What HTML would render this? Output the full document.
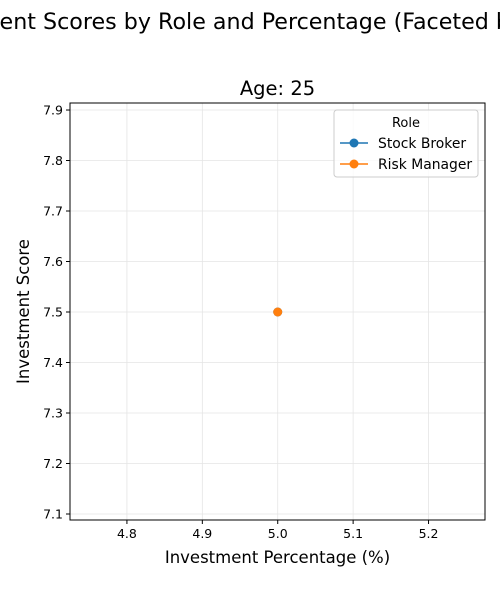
<!DOCTYPE html>
<html><head><meta charset="utf-8"><style>
body{margin:0;background:#fff;width:500px;height:600px;overflow:hidden}
svg{font-family:"DejaVu Sans","Liberation Sans",sans-serif}
</style></head><body>
<svg width="500" height="600" viewBox="0 0 500 600">
<text x="246" y="29" text-anchor="middle" font-size="22.2" fill="#000">Investment Scores by Role and Percentage (Faceted by Age)</text>
<text x="277.5" y="95" text-anchor="middle" font-size="19.5" fill="#000">Age: 25</text>
<g id="grid"></g>
<g id="axes"></g>
<g id="marks"></g>
<rect x="70" y="103" width="415" height="417" fill="none" stroke="#000" stroke-width="1"/>
<text x="277.5" y="563" text-anchor="middle" font-size="16.5">Investment Percentage (%)</text>
<text transform="translate(29,311.5) rotate(-90)" text-anchor="middle" font-size="16.5">Investment Score</text>
<g>
<rect x="334" y="110" width="144" height="67" rx="3" fill="#fff" fill-opacity="0.8" stroke="#ccc"/>
<text x="406" y="127" text-anchor="middle" font-size="13">Role</text>
<g>
<line x1="340" y1="143" x2="368" y2="143" stroke="#1f77b4" stroke-width="1.5"/><circle cx="354" cy="143" r="4.5" fill="#1f77b4"/>
<text x="378" y="148" font-size="13.9">Stock Broker</text></g>
<g>
<line x1="340" y1="164" x2="368" y2="164" stroke="#ff7f0e" stroke-width="1.5"/><circle cx="354" cy="164" r="4.5" fill="#ff7f0e"/>
<text x="378" y="169" font-size="13.9">Risk Manager</text></g>
</g>
</svg>
<script>
const xTicks=[4.8,4.9,5.0,5.1,5.2];
const yTicks=[7.1,7.2,7.3,7.4,7.5,7.6,7.7,7.8,7.9];
const seriesNames=["Stock Broker","Risk Manager"];
const seriesColors=["#1f77b4","#ff7f0e"];
const stockBrokerX=[5.0];
const stockBrokerY=[7.5];
const riskManagerX=[5.0];
const riskManagerY=[7.5];
const X0=70,X1=485,Y0=520,Y1=103,xmin=4.7245,xmax=5.2749,ymin=7.0881,ymax=7.9139;
const sx=v=>X0+(v-xmin)/(xmax-xmin)*(X1-X0);
const sy=v=>Y0-(v-ymin)/(ymax-ymin)*(Y0-Y1);
const NS="http://www.w3.org/2000/svg";
function mk(t,a,p){const e=document.createElementNS(NS,t);for(const k in a)e.setAttribute(k,a[k]);p.appendChild(e);return e;}
const grid=document.getElementById('grid'),axes=document.getElementById('axes'),marks=document.getElementById('marks');
xTicks.forEach(v=>{const x=sx(v);
const g=mk('line',{x1:x,x2:x,y1:Y1,y2:Y0,stroke:'#e5e5e5','stroke-width':0.8},grid);

const t=mk('line',{x1:x,x2:x,y1:Y0,y2:Y0+4,stroke:'#000'},axes);

const l=mk('text',{x:x,y:Y0+18,'text-anchor':'middle','font-size':12.5},axes);l.textContent=v.toFixed(1);
});
yTicks.forEach(v=>{const y=sy(v);
const g=mk('line',{x1:X0,x2:X1,y1:y,y2:y,stroke:'#e5e5e5','stroke-width':0.8},grid);

const t=mk('line',{x1:X0-4,x2:X0,y1:y,y2:y,stroke:'#000'},axes);

const l=mk('text',{x:X0-7,y:y+4.5,'text-anchor':'end','font-size':12.5},axes);l.textContent=v.toFixed(1);
});
[[stockBrokerX,stockBrokerY],[riskManagerX,riskManagerY]].forEach((s,i)=>{
const pts=s[0].map((x,j)=>sx(x)+','+sy(s[1][j])).join(' ');
const pl=mk('polyline',{points:pts,fill:'none',stroke:seriesColors[i],'stroke-width':1.5},marks);

s[0].forEach((x,j)=>{const c=mk('circle',{cx:sx(x),cy:sy(s[1][j]),r:4.5,fill:seriesColors[i]},marks);
});});
</script>
</body></html>
